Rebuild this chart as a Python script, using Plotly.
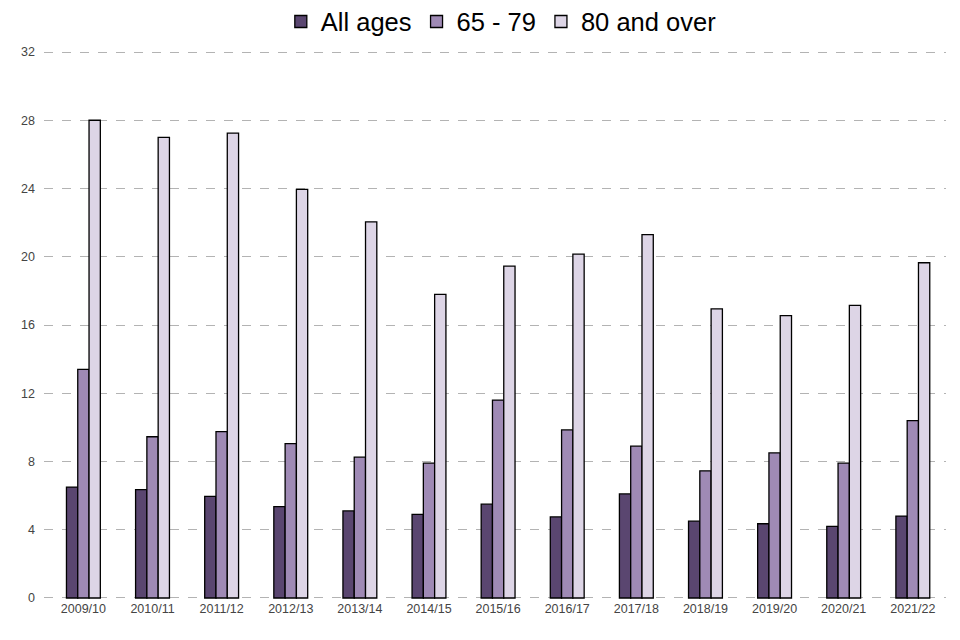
import plotly.graph_objects as go

years = ["2009/10", "2010/11", "2011/12", "2012/13", "2013/14", "2014/15", "2015/16",
         "2016/17", "2017/18", "2018/19", "2019/20", "2020/21", "2021/22"]
all_ages = [6.5, 6.35, 5.95, 5.35, 5.1, 4.9, 5.5, 4.75, 6.1, 4.5, 4.35, 4.2, 4.8]
age_65_79 = [13.4, 9.45, 9.75, 9.05, 8.25, 7.9, 11.6, 9.85, 8.9, 7.45, 8.5, 7.9, 10.4]
age_80_over = [28.0, 27.0, 27.25, 23.95, 22.05, 17.8, 19.45, 20.15, 21.3, 16.95, 16.55, 17.15, 19.65]

series = [("All ages", all_ages, "#5a4670"),
          ("65 - 79", age_65_79, "#9f8ab5"),
          ("80 and over", age_80_over, "#ddd5e6")]

fig = go.Figure()
for name, vals, col in series:
    fig.add_trace(go.Bar(x=list(range(len(years))), y=vals, name=name,
                         marker=dict(color=col, line=dict(color="black", width=1.3))))

fig.update_layout(
    width=952, height=632,
    margin=dict(l=36, r=14, t=43, b=41, autoexpand=False),
    plot_bgcolor="white", paper_bgcolor="white",
    barmode="group", bargap=0.51, bargroupgap=0,
    font=dict(family="Liberation Sans, Arial, sans-serif", color="#444444"),
    legend=dict(orientation="h", x=0.507, xanchor="center",
                yref="container", y=0.978, yanchor="middle",
                font=dict(size=25.5, color="black"), traceorder="normal"),
    showlegend=True,
)
fig.update_xaxes(tickmode="array", tickvals=list(range(len(years))), ticktext=years,
                 range=[-0.57, 12.48], showgrid=False, zeroline=False, showline=False,
                 ticks="", tickfont=dict(size=12.5, color="#444444"))
fig.update_yaxes(range=[-0.06, 32.06], tickvals=[0, 4, 8, 12, 16, 20, 24, 28, 32],
                 showgrid=True, gridcolor="#b3b3b3", griddash="dash", gridwidth=1,
                 zeroline=False, showline=False, ticks="", ticklabelstandoff=8,
                 tickfont=dict(size=12.5, color="#444444"))

fig.write_html("out.html")
